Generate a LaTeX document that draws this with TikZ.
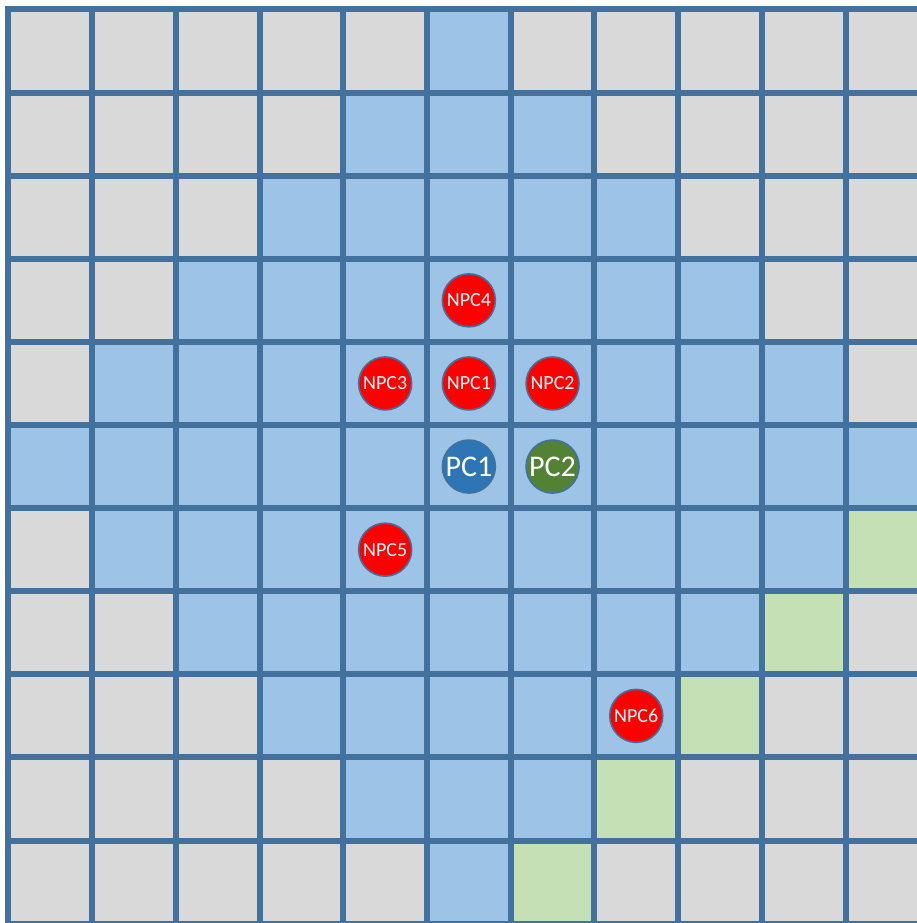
\documentclass[tikz,border=0pt]{standalone}
\usepackage{fontspec}
\setmainfont{Carlito}

\definecolor{gridline}{HTML}{41719C}
\definecolor{cellgray}{HTML}{D9D9D9}
\definecolor{cellblue}{HTML}{9DC3E6}
\definecolor{cellgreen}{HTML}{C5E0B4}
\definecolor{npcred}{HTML}{FF0000}
\definecolor{pcblue}{HTML}{2E75B6}
\definecolor{pcgreen}{HTML}{548235}

\tikzset{
  npc/.style={circle, fill=npcred, draw=gridline, line width=1.6pt,
    minimum size=53pt, inner sep=0pt, text=white,
    font=\fontsize{20}{20}\selectfont},
  pc/.style={npc, font=\fontsize{30}{30}\selectfont}
}

\begin{document}
\begin{tikzpicture}[x=83.7pt, y=-83.1pt]
  \useasboundingbox (-8.5pt,9.5pt) rectangle (908.5pt,-913.5pt);

  % board
  \fill[gridline] (-3pt,3pt) rectangle (908.5pt,-913.5pt);
  \foreach \r in {0,...,10}
    \foreach \c in {0,...,10} {
      \pgfmathtruncatemacro{\dist}{abs(\c-5)+abs(\r-5)}
      \pgfmathtruncatemacro{\diag}{\c+\r}
      \def\cellcol{cellgray}
      \ifnum\dist<6 \def\cellcol{cellblue}\fi
      \ifnum\diag=16 \ifnum\c>5 \ifnum\r>5 \def\cellcol{cellgreen}\fi\fi\fi
      \fill[\cellcol] ([shift={(3pt,-3pt)}]\c,\r)
        rectangle ([shift={(-3pt,3pt)}]\c+1,\r+1);
    }

  % characters
  \node[npc] (npc4) at (5.5,3.5) {NPC4};
  \node[npc] (npc3) at (4.5,4.5) {NPC3};
  \node[npc] (npc1) at (5.5,4.5) {NPC1};
  \node[npc] (npc2) at (6.5,4.5) {NPC2};
  \node[npc] (npc5) at (4.5,6.5) {NPC5};
  \node[npc] (npc6) at (7.5,8.5) {NPC6};
  \node[pc, fill=pcblue]  (pc1) at (5.5,5.5) {PC1};
  \node[pc, fill=pcgreen] (pc2) at (6.5,5.5) {PC2};
\end{tikzpicture}
\end{document}
